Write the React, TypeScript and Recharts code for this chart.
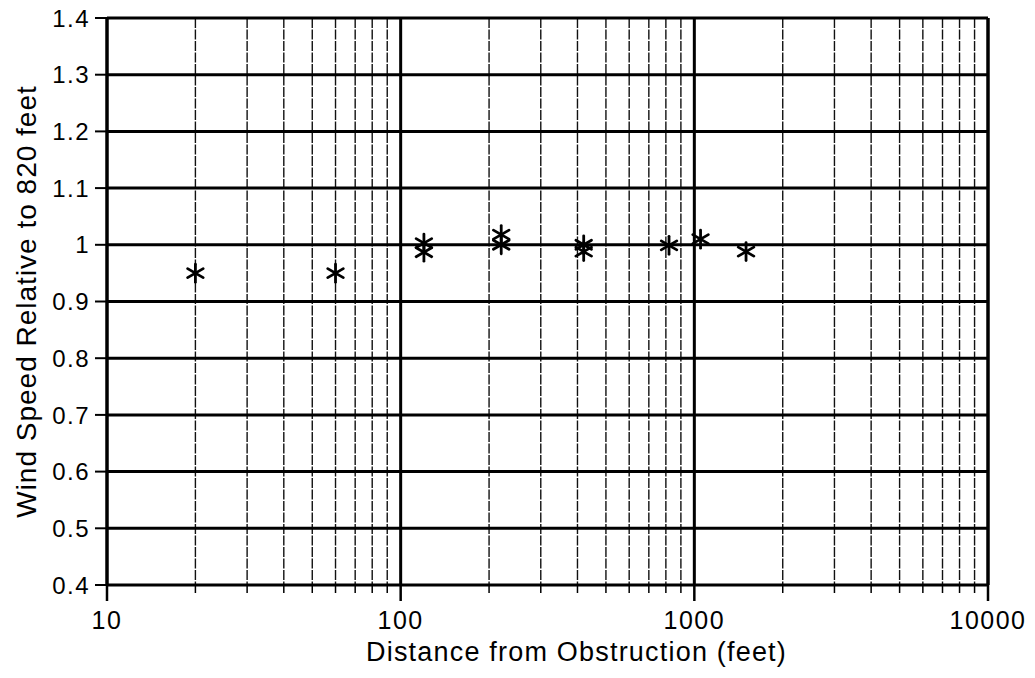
import React from "react";
import {
  ScatterChart,
  Scatter,
  XAxis,
  YAxis,
  CartesianGrid,
  ReferenceLine,
} from "recharts";

const distances = [20, 60, 120, 120, 220, 220, 420, 420, 820, 1050, 1500];
const ratios = [0.95, 0.95, 1.003, 0.987, 1.018, 1.0, 1.0, 0.988, 0.999, 1.01, 0.988];

const X_MAJOR = [10, 100, 1000, 10000];
const X_MINOR = [
  20, 30, 40, 50, 60, 70, 80, 90,
  200, 300, 400, 500, 600, 700, 800, 900,
  2000, 3000, 4000, 5000, 6000, 7000, 8000, 9000,
];
const X_TICKS = [...X_MAJOR, ...X_MINOR].sort((a, b) => a - b);
const Y_TICKS = [0.4, 0.5, 0.6, 0.7, 0.8, 0.9, 1.0, 1.1, 1.2, 1.3, 1.4];

const X_TITLE = "Distance from Obstruction (feet)";
const Y_TITLE = "Wind Speed Relative to 820 feet";

const FONT = "'Liberation Sans', Arial, Helvetica, sans-serif";

const data = distances.map((d, i) => ({ x: d, y: ratios[i] }));

const fmtY = (v: number) => (Math.abs(v - 1) < 1e-9 ? "1" : v.toFixed(1));

const Asterisk = (props: any) => {
  const { cx, cy } = props;
  if (cx == null || cy == null) return null;
  const r = 9;
  const arms = [90, 30, 150];
  return (
    <g>
      {arms.map((a) => {
        const rad = (a * Math.PI) / 180;
        const dx = r * Math.cos(rad);
        const dy = r * Math.sin(rad);
        return (
          <line
            key={a}
            x1={cx - dx}
            y1={cy - dy}
            x2={cx + dx}
            y2={cy + dy}
            stroke="#000"
            strokeWidth={2.8}
            strokeLinecap="round"
          />
        );
      })}
    </g>
  );
};

const XTick = (props: any) => {
  const { x, y, payload } = props;
  const v = payload.value;
  const major = X_MAJOR.includes(v);
  return (
    <g>
      <line
        x1={x}
        x2={x}
        y1={y}
        y2={y + (major ? 16 : 8)}
        stroke="#000"
        strokeWidth={major ? 2.5 : 1.5}
      />
      {major && (
        <text
          x={x}
          y={y + 44}
          textAnchor="middle"
          fontSize={25}
          letterSpacing={1.5}
          fontFamily={FONT}
          fill="#000"
        >
          {v}
        </text>
      )}
    </g>
  );
};

const YTick = (props: any) => {
  const { x, y, payload } = props;
  return (
    <text
      x={x}
      y={y}
      dy="0.36em"
      textAnchor="end"
      fontSize={24}
      letterSpacing={1.5}
      fontFamily={FONT}
      fill="#000"
    >
      {fmtY(payload.value)}
    </text>
  );
};

export default function App() {
  return (
    <div style={{ position: "absolute", left: 0, top: 0, background: "#fff" }}>
      <ScatterChart
        width={1035}
        height={678}
        margin={{ top: 18, right: 47, left: 0, bottom: 0 }}
      >
        <CartesianGrid
          horizontal={false}
          vertical={true}
          stroke="#111"
          strokeWidth={1.4}
          strokeDasharray="10 1.5"
        />
        <CartesianGrid
          horizontal={true}
          vertical={false}
          stroke="#000"
          strokeWidth={3}
        />
        <XAxis
          dataKey="x"
          type="number"
          scale="log"
          domain={[10, 10000]}
          ticks={X_TICKS}
          interval={0}
          allowDataOverflow
          height={93}
          axisLine={false}
          tickLine={false}
          tickSize={0}
          tickMargin={0}
          tick={<XTick />}
          label={{
            value: X_TITLE,
            position: "insideBottom",
            offset: 17,
            dx: 29,
            fontSize: 27,
            letterSpacing: 1.2,
            fontFamily: FONT,
            fill: "#000",
          }}
        />
        <YAxis
          dataKey="y"
          type="number"
          domain={[0.4, 1.4]}
          ticks={Y_TICKS}
          interval={0}
          width={107}
          axisLine={false}
          tickLine={{ stroke: "#000", strokeWidth: 2 }}
          tickSize={12}
          tickMargin={5}
          tick={<YTick />}
          label={{
            value: Y_TITLE,
            angle: -90,
            position: "center",
            dx: -27,
            fontSize: 28,
            letterSpacing: 1,
            fontFamily: FONT,
            fill: "#000",
          }}
        />
        <ReferenceLine x={100} stroke="#000" strokeWidth={3} />
        <ReferenceLine x={1000} stroke="#000" strokeWidth={3} />
        <ReferenceLine x={10} stroke="#000" strokeWidth={3.5} />
        <ReferenceLine x={10000} stroke="#000" strokeWidth={3.5} />
        <Scatter
          data={data}
          dataKey="y"
          shape={<Asterisk />}
          isAnimationActive={false}
        />
      </ScatterChart>
    </div>
  );
}
